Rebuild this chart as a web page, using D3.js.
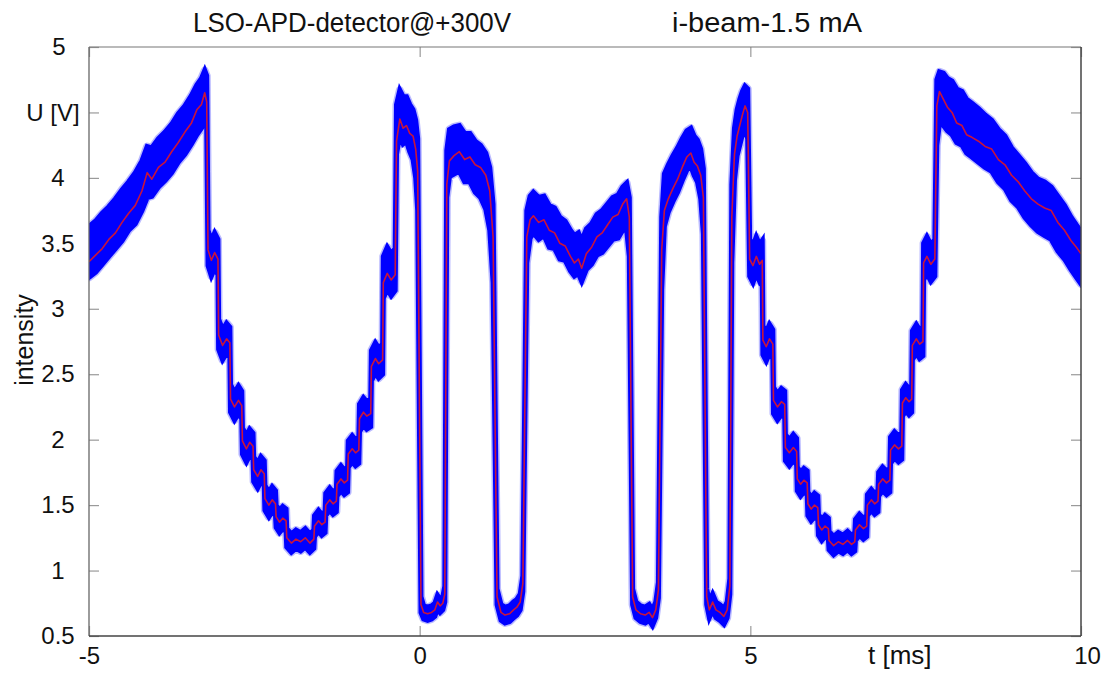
<!DOCTYPE html>
<html>
<head>
<meta charset="utf-8">
<script src="https://cdn.jsdelivr.net/npm/d3@7"></script>
<style>
  body { margin: 0; background: #ffffff; }
  svg text { font-family: "Liberation Sans", Arial, Helvetica, sans-serif; fill: #111; }
</style>
</head>
<body>
<svg id="chart" width="1111" height="675"></svg>
<script>
// ---------------- data ----------------
const titleLeft = "LSO-APD-detector@+300V";
const titleRight = "i-beam-1.5 mA";
const xAxisTitle = "t [ms]";
const yAxisTitle = "intensity";

const xTickValues = [-5, 0, 5, 10];
const xTickLabels = ["-5", "0", "5", "10"];
const yTickValues = [0.5, 1, 1.5, 2, 2.5, 3, 3.5, 4, 4.5, 5];
const yTickLabels = ["0.5", "1", "1.5", "2", "2.5", "3", "3.5", "4", "U [V]", "5"];

// time [ms]
const timeMs = [
  -5.00,-4.90,-4.80,-4.70,-4.60,-4.50,-4.40,-4.30,-4.20,-4.12,-4.05,-3.95,-3.85,-3.75,-3.65,-3.55,-3.45,-3.37,-3.30,-3.25,-3.22,
  -3.20,-3.15,-3.10,-3.05, -3.04,-2.98,-2.92,-2.87, -2.86,-2.80,-2.74,-2.69, -2.68,-2.62,-2.57,-2.52, -2.51,-2.45,-2.40,-2.35, -2.34,-2.28,-2.23,-2.18, -2.17,-2.12,-2.07,-2.02,
  -2.01,-1.94,-1.87,-1.80,-1.73,-1.66,-1.60,
  -1.59,-1.53,-1.48,-1.43, -1.42,-1.36,-1.31,-1.26, -1.25,-1.19,-1.14,-1.09, -1.08,-1.02,-0.97,-0.92, -0.91,-0.85,-0.80,-0.74, -0.73,-0.67,-0.62,-0.56, -0.55,-0.49,-0.43,-0.37,
  -0.35,-0.30,-0.25,-0.20,-0.15,-0.10,-0.06,-0.03,
  0.02,0.06,0.12,0.18,0.23,0.27,0.31,0.35,0.38,
  0.41,0.45,0.52,0.60,0.68,0.76,0.84,0.92,1.00,1.06,1.11,
  1.17,1.23,1.29,1.36,1.42,1.47,1.52,1.56,
  1.62,1.67,1.72,1.80,1.88,1.96,2.04,2.12,2.20,2.28,2.34,2.40,2.45,2.52,2.60,2.68,2.76,2.84,2.92,3.00,3.07,3.13,3.17,
  3.22,3.27,3.34,3.41,3.47,3.52,3.57,3.61,
  3.66,3.70,3.76,3.83,3.90,3.97,4.04,4.10,4.15,4.20,4.25,4.29,
  4.34,4.38,4.43,4.48,4.54,4.60,4.65,4.69,
  4.72,4.76,4.80,4.84,4.88,4.92,4.96,
  4.99,5.04,5.09,5.14,5.18, 5.19,5.24,5.29,5.34, 5.35,5.41,5.47,5.52, 5.53,5.59,5.65,5.70, 5.71,5.76,5.81,5.86, 5.87,5.92,5.97,6.02, 6.03,6.08,6.13,6.18,
  6.19,6.26,6.33,6.40,6.47,6.53,6.58,
  6.59,6.65,6.71,6.76, 6.77,6.83,6.88,6.93, 6.94,7.00,7.06,7.11, 7.12,7.18,7.24,7.29, 7.30,7.35,7.40,7.44, 7.45,7.51,7.56,7.61, 7.62,7.67,7.73,7.79,
  7.82,7.86,7.92,7.98,8.05,8.12,8.20,8.27,8.35,8.45,8.55,8.65,8.75,8.85,8.95,9.05,9.15,9.25,9.35,9.45,9.55,9.65,9.75,9.85,9.93,10.00
];

// mean voltage (red trace) [V]
const meanU = [
  3.36,3.41,3.46,3.53,3.58,3.66,3.73,3.79,3.90,4.04,3.99,4.08,4.12,4.20,4.27,4.35,4.42,4.52,4.56,4.65,4.58,
  3.45,3.37,3.43,3.38, 2.80,2.72,2.77,2.74, 2.31,2.25,2.30,2.26, 1.99,1.93,1.98,1.95, 1.77,1.72,1.77,1.74, 1.55,1.50,1.54,1.51, 1.41,1.37,1.40,1.38,
  1.25,1.21,1.24,1.22,1.25,1.21,1.24,
  1.34,1.38,1.35,1.37, 1.50,1.54,1.51,1.53, 1.66,1.70,1.67,1.69, 1.89,1.93,1.90,1.92, 2.16,2.21,2.18,2.20, 2.56,2.62,2.58,2.61, 3.20,3.27,3.22,3.26,
  4.28,4.45,4.38,4.40,4.34,4.32,4.22,4.05,
  0.74,0.68,0.67,0.68,0.70,0.76,0.73,0.75,0.82,
  3.95,4.13,4.17,4.20,4.14,4.16,4.10,4.08,4.02,3.90,3.55,
  0.80,0.68,0.66,0.67,0.70,0.72,0.76,0.90,
  3.55,3.68,3.71,3.66,3.68,3.60,3.58,3.50,3.48,3.40,3.35,3.38,3.31,3.42,3.47,3.55,3.58,3.64,3.70,3.72,3.80,3.84,3.70,
  0.80,0.70,0.67,0.66,0.68,0.64,0.70,0.85,
  3.45,3.75,3.84,3.92,3.99,4.08,4.16,4.19,4.12,4.09,4.02,3.85,
  0.80,0.70,0.76,0.70,0.68,0.65,0.70,0.88,
  3.70,4.18,4.32,4.40,4.48,4.55,4.50,
  3.38,3.33,3.40,3.34,3.37, 2.76,2.71,2.77,2.73, 2.30,2.25,2.29,2.27, 1.94,1.90,1.94,1.91, 1.70,1.66,1.69,1.67, 1.51,1.47,1.50,1.48, 1.35,1.31,1.34,1.32,
  1.23,1.19,1.22,1.20,1.23,1.20,1.22,
  1.31,1.35,1.32,1.34, 1.50,1.54,1.51,1.53, 1.66,1.70,1.67,1.69, 1.92,1.96,1.93,1.95, 2.28,2.32,2.29,2.31, 2.72,2.77,2.73,2.75, 3.35,3.40,3.34,3.38,
  4.55,4.66,4.60,4.54,4.50,4.42,4.40,4.33,4.31,4.28,4.24,4.22,4.14,4.10,4.02,3.97,3.90,3.84,3.80,3.77,3.75,3.66,3.60,3.52,3.47,3.42
];

// extent of the noisy (blue) band above the mean [V]
const spreadUp = [
  0.27,0.26,0.27,0.25,0.26,0.25,0.24,0.25,0.23,0.20,0.24,0.22,0.23,0.21,0.22,0.20,0.21,0.19,0.20,0.17,0.20,
  0.15,0.15,0.15,0.15, 0.12,0.12,0.12,0.12, 0.11,0.11,0.11,0.11, 0.10,0.10,0.10,0.10, 0.10,0.10,0.10,0.10, 0.10,0.10,0.10,0.10, 0.09,0.09,0.09,0.09,
  0.07,0.07,0.07,0.07,0.07,0.07,0.07,
  0.08,0.08,0.08,0.08, 0.09,0.09,0.09,0.09, 0.10,0.10,0.10,0.10, 0.10,0.10,0.10,0.10, 0.11,0.11,0.11,0.11, 0.12,0.12,0.12,0.12, 0.20,0.20,0.20,0.20,
  0.28,0.22,0.24,0.22,0.22,0.20,0.22,0.25,
  0.06,0.05,0.05,0.05,0.05,0.05,0.05,0.05,0.06,
  0.26,0.24,0.22,0.20,0.20,0.18,0.18,0.17,0.17,0.18,0.25,
  0.06,0.06,0.06,0.06,0.06,0.06,0.06,0.06,
  0.20,0.18,0.18,0.19,0.18,0.19,0.19,0.20,0.19,0.20,0.21,0.20,0.21,0.19,0.18,0.17,0.17,0.16,0.15,0.15,0.13,0.12,0.15,
  0.06,0.06,0.06,0.06,0.06,0.06,0.06,0.06,
  0.25,0.28,0.26,0.25,0.24,0.22,0.20,0.19,0.20,0.20,0.20,0.22,
  0.06,0.06,0.06,0.06,0.06,0.06,0.06,0.06,
  0.25,0.20,0.20,0.20,0.18,0.15,0.18,
  0.15,0.15,0.15,0.15,0.15, 0.11,0.11,0.11,0.11, 0.10,0.10,0.10,0.10, 0.10,0.10,0.10,0.10, 0.09,0.09,0.09,0.09, 0.09,0.09,0.09,0.09, 0.08,0.08,0.08,0.08,
  0.07,0.07,0.07,0.07,0.07,0.07,0.07,
  0.08,0.08,0.08,0.08, 0.08,0.08,0.08,0.08, 0.09,0.09,0.09,0.09, 0.10,0.10,0.10,0.10, 0.10,0.10,0.10,0.10, 0.11,0.11,0.11,0.11, 0.15,0.15,0.15,0.15,
  0.20,0.15,0.20,0.22,0.24,0.26,0.26,0.27,0.26,0.25,0.24,0.22,0.23,0.22,0.21,0.20,0.21,0.20,0.19,0.20,0.18,0.20,0.19,0.18,0.17,0.17
];

// extent of the noisy (blue) band below the mean [V]
const spreadDown = [
  0.12,0.13,0.12,0.13,0.12,0.14,0.13,0.14,0.15,0.19,0.13,0.15,0.14,0.16,0.15,0.17,0.16,0.19,0.18,0.22,0.20,
  0.12,0.12,0.12,0.12, 0.11,0.11,0.11,0.11, 0.10,0.10,0.10,0.10, 0.10,0.10,0.10,0.10, 0.09,0.09,0.09,0.09, 0.09,0.09,0.09,0.09, 0.08,0.08,0.08,0.08,
  0.07,0.07,0.07,0.07,0.07,0.07,0.07,
  0.08,0.08,0.08,0.08, 0.08,0.08,0.08,0.08, 0.09,0.09,0.09,0.09, 0.10,0.10,0.10,0.10, 0.10,0.10,0.10,0.10, 0.11,0.11,0.11,0.11, 0.12,0.12,0.12,0.12,
  0.10,0.12,0.12,0.12,0.14,0.18,0.22,0.30,
  0.06,0.05,0.05,0.05,0.05,0.05,0.05,0.05,0.06,
  0.10,0.12,0.14,0.15,0.17,0.19,0.21,0.23,0.26,0.30,0.35,
  0.06,0.06,0.06,0.06,0.06,0.06,0.06,0.06,
  0.20,0.14,0.13,0.13,0.12,0.13,0.12,0.12,0.11,0.11,0.10,0.11,0.10,0.12,0.13,0.14,0.15,0.16,0.17,0.18,0.20,0.24,0.30,
  0.06,0.06,0.06,0.06,0.06,0.06,0.06,0.06,
  0.30,0.12,0.10,0.10,0.10,0.10,0.10,0.10,0.10,0.12,0.18,0.28,
  0.06,0.06,0.06,0.06,0.06,0.06,0.06,0.06,
  0.35,0.20,0.15,0.15,0.15,0.17,0.20,
  0.13,0.13,0.13,0.13,0.13, 0.11,0.11,0.11,0.11, 0.10,0.10,0.10,0.10, 0.10,0.10,0.10,0.10, 0.09,0.09,0.09,0.09, 0.09,0.09,0.09,0.09, 0.08,0.08,0.08,0.08,
  0.07,0.07,0.07,0.07,0.07,0.07,0.07,
  0.08,0.08,0.08,0.08, 0.08,0.08,0.08,0.08, 0.09,0.09,0.09,0.09, 0.10,0.10,0.10,0.10, 0.10,0.10,0.10,0.10, 0.11,0.11,0.11,0.11, 0.13,0.13,0.13,0.13,
  0.30,0.24,0.20,0.18,0.17,0.15,0.15,0.14,0.15,0.16,0.16,0.17,0.17,0.18,0.19,0.19,0.20,0.20,0.21,0.21,0.22,0.22,0.22,0.22,0.23,0.23
];

if (meanU.length !== timeMs.length || spreadUp.length !== timeMs.length || spreadDown.length !== timeMs.length) {
  throw new Error("length mismatch " + [timeMs.length, meanU.length, spreadUp.length, spreadDown.length].join(","));
}

// ---------------- drawing ----------------
const svg = d3.select("#chart");
const plot = { left: 89, right: 1081, top: 47, bottom: 636 };

const x = d3.scaleLinear().domain([-5, 10]).range([plot.left, plot.right]);
const y = d3.scaleLinear().domain([0.5, 5]).range([plot.bottom, plot.top]);

const samples = timeMs.map((t, i) => ({ t, u: meanU[i], hi: meanU[i] + spreadUp[i], lo: meanU[i] - spreadDown[i] }));

svg.append("defs").append("clipPath").attr("id", "plotClip")
  .append("rect")
  .attr("x", plot.left).attr("y", plot.top)
  .attr("width", plot.right - plot.left).attr("height", plot.bottom - plot.top);

// inward ticks (under the data)
const tickColor = "#9a9a9a";
const gLeft = svg.append("g").attr("transform", `translate(${plot.left},0)`)
  .call(d3.axisLeft(y).tickValues(yTickValues).tickSize(-10).tickPadding(32)
    .tickFormat((d, i) => yTickLabels[i]));
const gRight = svg.append("g").attr("transform", `translate(${plot.right},0)`)
  .call(d3.axisRight(y).tickValues(yTickValues).tickSize(-10).tickFormat(""));
const gBottom = svg.append("g").attr("transform", `translate(0,${plot.bottom})`)
  .call(d3.axisBottom(x).tickValues(xTickValues).tickSize(-10).tickPadding(11)
    .tickFormat((d, i) => xTickLabels[i]));
const gTop = svg.append("g").attr("transform", `translate(0,${plot.top})`)
  .call(d3.axisTop(x).tickValues(xTickValues).tickSize(-10).tickFormat(""));

[gLeft, gRight, gBottom, gTop].forEach(g => {
  g.select(".domain").remove();
  g.selectAll(".tick line").attr("stroke", tickColor).attr("stroke-width", 1.2);
  g.selectAll("text").attr("font-size", 24).attr("fill", "#111")
    .style("font-family", '"Liberation Sans", Arial, sans-serif');
});
gLeft.selectAll(".tick text").attr("text-anchor", "middle").attr("x", -31);
gLeft.selectAll(".tick").filter(d => d === 4.5).select("text").attr("x", -36);
gLeft.selectAll(".tick").filter(d => d === 5).select("text").attr("x", -30);
gBottom.selectAll(".tick").filter(d => d === 10).select("text").attr("x", 6);

// data
const dataLayer = svg.append("g").attr("clip-path", "url(#plotClip)");

const band = d3.area()
  .x(d => x(d.t))
  .y0(d => y(d.lo))
  .y1(d => y(d.hi))
  .curve(d3.curveLinear);

// soft halo of the noise band
dataLayer.append("path")
  .datum(samples)
  .attr("d", band)
  .attr("fill", "#0000ff")
  .attr("stroke", "#3a3aff")
  .attr("stroke-opacity", 0.35)
  .attr("stroke-width", 8)
  .attr("stroke-linejoin", "round");

dataLayer.append("path")
  .datum(samples)
  .attr("d", band)
  .attr("fill", "#0000ff")
  .attr("stroke", "#0000ff")
  .attr("stroke-width", 5)
  .attr("stroke-linejoin", "miter");

const meanLine = d3.line()
  .x(d => x(d.t))
  .y(d => y(d.u))
  .curve(d3.curveLinear);

dataLayer.append("path")
  .datum(samples)
  .attr("d", meanLine)
  .attr("fill", "none")
  .attr("stroke", "#c8143c")
  .attr("stroke-width", 1.6)
  .attr("stroke-linejoin", "round");

// frame
svg.append("line").attr("x1", plot.left).attr("x2", plot.right).attr("y1", plot.top).attr("y2", plot.top)
  .attr("stroke", "#777").attr("stroke-width", 1.2);
svg.append("line").attr("x1", plot.right).attr("x2", plot.right).attr("y1", plot.top).attr("y2", plot.bottom)
  .attr("stroke", "#444").attr("stroke-width", 1.5);
svg.append("line").attr("x1", plot.left).attr("x2", plot.left).attr("y1", plot.top).attr("y2", plot.bottom)
  .attr("stroke", "#666").attr("stroke-width", 1.3);
svg.append("line").attr("x1", plot.left).attr("x2", plot.right).attr("y1", plot.bottom).attr("y2", plot.bottom)
  .attr("stroke", "#444").attr("stroke-width", 1.5);

// titles
svg.append("text").attr("x", 193).attr("y", 32)
  .attr("font-size", 27).attr("textLength", 318).attr("lengthAdjust", "spacingAndGlyphs")
  .text(titleLeft);
svg.append("text").attr("x", 672).attr("y", 32)
  .attr("font-size", 27).attr("textLength", 190).attr("lengthAdjust", "spacingAndGlyphs")
  .text(titleRight);

// axis titles
svg.append("text").attr("x", x(7.26)).attr("y", 664)
  .attr("text-anchor", "middle").attr("font-size", 26)
  .text(xAxisTitle);
svg.append("text")
  .attr("transform", `translate(33,340) rotate(-90)`)
  .attr("text-anchor", "middle").attr("font-size", 25)
  .text(yAxisTitle);
</script>
</body>
</html>
